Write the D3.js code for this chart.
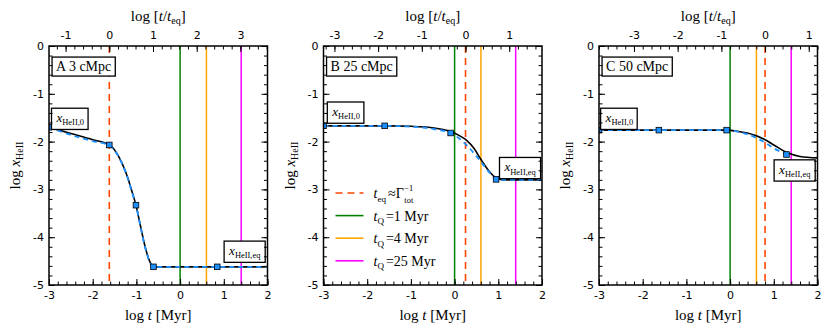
<!DOCTYPE html>
<html lang="en">
<head>
<meta charset="UTF-8">
<title>xHeII relaxation</title>
<script src="https://d3js.org/d3.v7.min.js"></script>
<style>
  body { margin: 0; background: #fff; }
  svg text { font-family: "DejaVu Sans", sans-serif; fill: #000; }
  svg text.serif { font-family: "Liberation Serif", "DejaVu Serif", serif; }
</style>
</head>
<body>
<svg width="830" height="336"></svg>
<script>
// ---- data ----
const panelNames = ["A 3 cMpc", "B 25 cMpc", "C 50 cMpc"];
const logTeq = [-1.62, 0.25, 0.8];           // log t_eq [Myr] per panel
const tQLabels = ["1", "4", "25"];             // quasar lifetimes in Myr
const logTQ = [0, 0.602, 1.398];
const tQColors = ["#008000", "#ffa500", "#ff00ff"];

// black solid curve (log t, log xHeII)
const blackCurves = [
  [[-3, -1.70], [-2.5, -1.83], [-2, -1.96], [-1.62, -2.07], [-1.45, -2.24], [-1.33, -2.45],
   [-1.2, -2.75], [-1.1, -3.05], [-1.01, -3.33], [-0.91, -3.75], [-0.8, -4.2], [-0.72, -4.45],
   [-0.66, -4.57], [-0.61, -4.62], [0, -4.62], [2, -4.62]],
  [[-3, -1.67], [-2, -1.67], [-1.5, -1.67], [-1, -1.68], [-0.6, -1.70], [-0.3, -1.74],
   [-0.09, -1.79], [0.1, -1.87], [0.27, -1.97], [0.45, -2.15], [0.6, -2.37], [0.8, -2.63],
   [0.95, -2.76], [1.1, -2.8], [2, -2.8]],
  [[-3, -1.76], [-1, -1.76], [-0.08, -1.76], [0.2, -1.79], [0.55, -1.86], [0.8, -1.96],
   [1.0, -2.07], [1.3, -2.23], [1.6, -2.31], [2, -2.34]]
];
// blue dashed curve
const blueCurves = [
  [[-3, -1.70], [-2.5, -1.86], [-2, -1.99], [-1.62, -2.08], [-1.45, -2.25], [-1.33, -2.46],
   [-1.2, -2.76], [-1.1, -3.06], [-1.01, -3.33], [-0.91, -3.76], [-0.8, -4.22], [-0.72, -4.46],
   [-0.66, -4.58], [-0.61, -4.62], [0, -4.62], [2, -4.62]],
  [[-3, -1.67], [-1.6, -1.67], [-0.8, -1.70], [-0.4, -1.75], [-0.09, -1.82], [0.1, -1.93],
   [0.27, -2.07], [0.45, -2.25], [0.6, -2.42], [0.8, -2.65], [0.95, -2.78], [1.1, -2.8], [2, -2.8]],
  [[-3, -1.76], [-0.08, -1.76], [0.2, -1.80], [0.55, -1.90], [0.8, -2.02], [1.0, -2.14], [1.29, -2.26]]
];
const markerPoints = [
  [[-3, -1.70], [-1.62, -2.07], [-1.01, -3.33], [-0.61, -4.62], [0.85, -4.62]],
  [[-3, -1.67], [-1.6, -1.67], [-0.09, -1.82], [0.95, -2.79]],
  [[-3, -1.76], [-1.63, -1.76], [-0.08, -1.76], [1.29, -2.27]]
];
// annotation anchors (left, bottom) in data units
const x0Anchors = [[-2.92, -1.72], [-2.89, -1.59], [-2.94, -1.72]];
const eqAnchors = [[1.03, -4.50], [1.05, -2.75], [1.03, -2.80]];
const nameAnchors = [[-2.93, -0.65], [-2.93, -0.65], [-2.93, -0.65]];

const xDomain = [-3, 2];
const yDomain = [-5, 0];

// ---- layout ----
const svg = d3.select("svg");
const lefts = [49, 323.5, 599];
const plotTop = 46, W = 218.5, H = 239;
const blue = "#1e90ff", red = "#ff4500";
const fmt = d => String(d);

function addTicks(g, axis, scale, major, minor, len, lenMinor, labels, pad) {
  const a = axis(scale).tickValues(major).tickSizeInner(-len).tickSizeOuter(0).tickPadding(pad)
    .tickFormat(labels ? fmt : "");
  g.call(a);
  const m = g.append("g");
  m.call(axis(scale).tickValues(minor).tickSizeInner(-lenMinor).tickSizeOuter(0).tickFormat(""));
  g.selectAll(".domain").remove();
  g.selectAll("line").attr("stroke", "#000").attr("stroke-width", 1);
  g.selectAll("text").attr("font-size", 11).attr("font-family", "DejaVu Sans, sans-serif");
}

function subLabel(sel, main, sub, size) {
  sel.append("tspan").attr("font-style", "italic").attr("font-size", size).text(main);
  sel.append("tspan").attr("font-size", size * 0.65).attr("dy", size * 0.25).text(sub);
}

function box(g, x, y, build) {
  const t = g.append("text").attr("class", "serif").attr("x", x).attr("y", y);
  build(t);
  const bb = t.node().getBBox();
  const padX = 4, padY = 2;
  g.insert("rect", function () { return t.node(); })
    .attr("x", bb.x - padX).attr("y", bb.y - padY)
    .attr("width", bb.width + 2 * padX).attr("height", bb.height + 2 * padY)
    .attr("fill", "#fff").attr("stroke", "#000").attr("stroke-width", 1.3);
  return t;
}

panelNames.forEach((name, i) => {
  const g = svg.append("g").attr("transform", `translate(${lefts[i]},${plotTop})`);
  const x = d3.scaleLinear().domain(xDomain).range([0, W]);
  const y = d3.scaleLinear().domain(yDomain).range([H, 0]);
  const xTop = d3.scaleLinear().domain([xDomain[0] - logTeq[i], xDomain[1] - logTeq[i]]).range([0, W]);

  const clipId = "clip" + i;
  g.append("clipPath").attr("id", clipId).append("rect").attr("width", W).attr("height", H);
  const plot = g.append("g").attr("clip-path", `url(#${clipId})`);

  // vertical lines for quasar lifetimes and t_eq
  plot.selectAll("line.tq").data(logTQ).join("line").attr("class", "tq")
    .attr("x1", d => x(d)).attr("x2", d => x(d)).attr("y1", 0).attr("y2", H)
    .attr("stroke", (d, j) => tQColors[j]).attr("stroke-width", 1.5);
  plot.append("line")
    .attr("x1", x(logTeq[i])).attr("x2", x(logTeq[i])).attr("y1", 0).attr("y2", H)
    .attr("stroke", red).attr("stroke-width", 1.6).attr("stroke-dasharray", "7,5");

  const line = d3.line().x(d => x(d[0])).y(d => y(d[1])).curve(d3.curveMonotoneX);
  plot.append("path").attr("d", line(blackCurves[i]))
    .attr("fill", "none").attr("stroke", "#000").attr("stroke-width", 1.6);
  plot.append("path").attr("d", line(blueCurves[i]))
    .attr("fill", "none").attr("stroke", blue).attr("stroke-width", 1.8)
    .attr("stroke-dasharray", "5,4");
  plot.selectAll("rect.mk").data(markerPoints[i]).join("rect").attr("class", "mk")
    .attr("x", d => x(d[0]) - 2.8).attr("y", d => y(d[1]) - 2.8)
    .attr("width", 5.6).attr("height", 5.6)
    .attr("fill", blue).attr("stroke", "#000").attr("stroke-width", 0.8);

  // annotation boxes
  const ann = g.append("g");
  box(ann, x(nameAnchors[i][0]) + 4, y(nameAnchors[i][1]) - 6,
    t => t.attr("font-size", 14).text(name));
  box(ann, x(x0Anchors[i][0]) + 4, y(x0Anchors[i][1]) - 6,
    t => subLabel(t, "x", "HeII,0", 13));
  box(ann, x(eqAnchors[i][0]) + 4, y(eqAnchors[i][1]) - 6,
    t => subLabel(t, "x", "HeII,eq", 13));

  // legend (middle panel only)
  if (i === 1) {
    const leg = g.append("g").attr("transform", "translate(12,147)");
    const rows = [{ c: red, dash: "7,5" }].concat(tQColors.map(c => ({ c, dash: null })));
    rows.forEach((r, j) => {
      const ry = j * 22.6;
      leg.append("line").attr("x1", 0).attr("x2", 28).attr("y1", ry).attr("y2", ry)
        .attr("stroke", r.c).attr("stroke-width", 1.6).attr("stroke-dasharray", r.dash);
      const t = leg.append("text").attr("class", "serif").attr("x", 38).attr("y", ry + 5)
        .attr("font-size", 14);
      if (j === 0) {
        subLabel(t, "t", "eq", 14);
        t.append("tspan").attr("dy", -3.5).attr("dx", 2).text("\u2248\u0393");
        const end = t.node().getBBox();
        const sx = end.x + end.width + 0.5;
        leg.append("text").attr("class", "serif").attr("x", sx).attr("y", ry + 9.5)
          .attr("font-size", 8.5).text("tot");
        leg.append("text").attr("class", "serif").attr("x", sx).attr("y", ry - 2.5)
          .attr("font-size", 8.5).text("\u22121");
      } else {
        subLabel(t, "t", "Q", 14);
        t.append("tspan").attr("dy", -3.5).attr("dx", 2).text("=" + tQLabels[j - 1] + " Myr");
      }
    });
  }

  // axes with inward ticks on all sides
  const ints = d3.range(-5, 6);
  const minorX = d3.range(-3, 2.001, 0.2).map(v => +v.toFixed(2));
  const minorY = d3.range(-5, 0.001, 0.2).map(v => +v.toFixed(2));
  const topMajor = ints.filter(v => v >= xTop.domain()[0] && v <= xTop.domain()[1]);
  const topMinor = d3.range(-8, 8, 0.2).map(v => +v.toFixed(2))
    .filter(v => v >= xTop.domain()[0] && v <= xTop.domain()[1]);

  addTicks(g.append("g").attr("transform", `translate(0,${H})`), d3.axisBottom, x,
    ints.filter(v => v >= -3 && v <= 2), minorX, 6, 3.5, true, 6);
  addTicks(g.append("g"), d3.axisTop, xTop, topMajor, topMinor, 6, 3.5, true, 7);
  addTicks(g.append("g"), d3.axisLeft, y, ints.filter(v => v >= -5 && v <= 0), minorY, 6, 3.5, true, 5);
  addTicks(g.append("g").attr("transform", `translate(${W},0)`), d3.axisRight, y,
    ints.filter(v => v >= -5 && v <= 0), minorY, 6, 3.5, false, 5);

  g.append("rect").attr("width", W).attr("height", H)
    .attr("fill", "none").attr("stroke", "#000").attr("stroke-width", 1.5);

  // axis labels
  const xl = g.append("text").attr("class", "serif").attr("x", W / 2).attr("y", H + 35)
    .attr("text-anchor", "middle").attr("font-size", 15);
  xl.append("tspan").text("log ");
  xl.append("tspan").attr("font-style", "italic").text("t");
  xl.append("tspan").text(" [Myr]");

  const tl = g.append("text").attr("class", "serif").attr("x", W / 2).attr("y", -25)
    .attr("text-anchor", "middle").attr("font-size", 15);
  tl.append("tspan").text("log [");
  tl.append("tspan").attr("font-style", "italic").text("t");
  tl.append("tspan").text("/");
  tl.append("tspan").attr("font-style", "italic").text("t");
  tl.append("tspan").attr("font-size", 10).attr("dy", 3).text("eq");
  tl.append("tspan").attr("dy", -3).text("]");

  const yl = g.append("text").attr("class", "serif")
    .attr("transform", `translate(-29,${H / 2}) rotate(-90)`)
    .attr("text-anchor", "middle").attr("font-size", 15);
  yl.append("tspan").text("log ");
  yl.append("tspan").attr("font-style", "italic").text("x");
  yl.append("tspan").attr("font-size", 10).attr("dy", 3).text("HeII");
});
</script>
</body>
</html>
